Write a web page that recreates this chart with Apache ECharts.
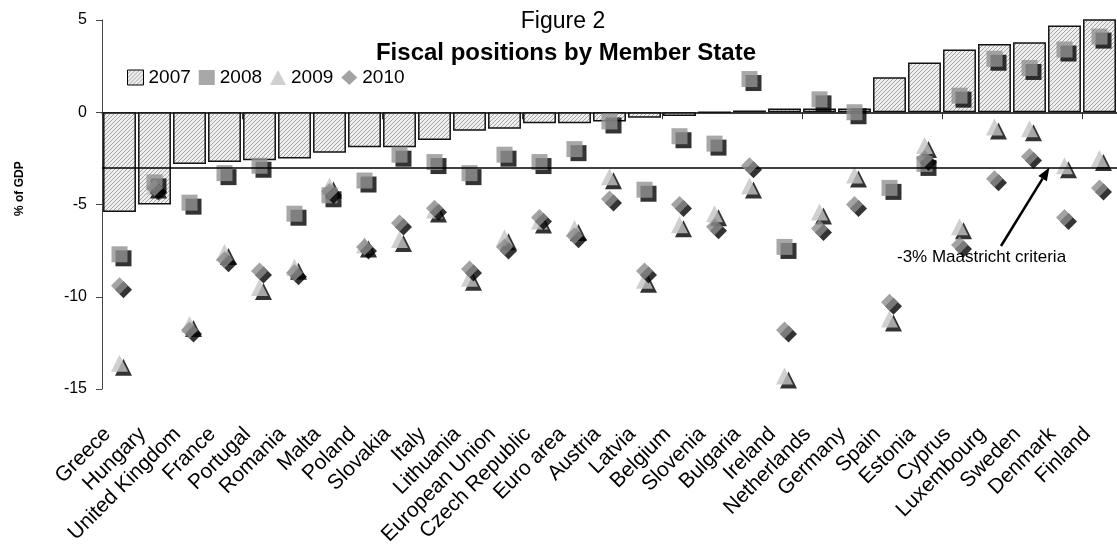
<!DOCTYPE html>
<html>
<head>
<meta charset="utf-8">
<script src="https://cdn.jsdelivr.net/npm/echarts@6/dist/echarts.min.js"></script>
<style>
  html, body { margin: 0; padding: 0; background: #ffffff; }
  #chart { width: 1117px; height: 552px; }
</style>
</head>
<body>
<div id="chart"></div>
<script>
// General government balance, % of GDP, by Member State
const categories = [
  'Greece', 'Hungary', 'United Kingdom', 'France', 'Portugal', 'Romania', 'Malta',
  'Poland', 'Slovakia', 'Italy', 'Lithuania', 'European Union', 'Czech Republic',
  'Euro area', 'Austria', 'Latvia', 'Belgium', 'Slovenia', 'Bulgaria', 'Ireland',
  'Netherlands', 'Germany', 'Spain', 'Estonia', 'Cyprus', 'Luxembourg', 'Sweden',
  'Denmark', 'Finland'
];
const balance2007 = [-5.4, -5.0, -2.8, -2.7, -2.6, -2.5, -2.2, -1.9, -1.9, -1.5, -1.0, -0.9, -0.6,
  -0.6, -0.5, -0.3, -0.2, 0.0, 0.1, 0.2, 0.2, 0.2, 1.9, 2.7, 3.4, 3.7, 3.8, 4.7, 5.2];
const balance2008 = [-7.7, -3.8, -4.9, -3.3, -2.9, -5.5, -4.5, -3.7, -2.3, -2.7, -3.3, -2.3, -2.7,
  -2.0, -0.5, -4.2, -1.3, -1.7, 1.8, -7.3, 0.7, 0.0, -4.1, -2.8, 0.9, 2.9, 2.4, 3.4, 4.1];
const balance2009 = [-13.6, -4.0, -11.5, -7.6, -9.5, -8.4, -4.0, -7.2, -6.9, -5.3, -9.0, -6.8, -5.9,
  -6.3, -3.5, -9.1, -6.1, -5.5, -4.0, -14.3, -5.4, -3.4, -11.2, -1.8, -6.2, -0.8, -0.9, -2.9, -2.5];
const balance2010 = [-9.4, -4.1, -11.8, -8.0, -8.6, -8.7, -4.3, -7.3, -6.0, -5.2, -8.5, -7.3, -5.7,
  -6.7, -4.7, -8.6, -5.0, -6.2, -2.9, -11.8, -6.3, -5.0, -10.3, -2.5, -7.2, -3.6, -2.4, -5.7, -4.1];
const seriesNames = ['2007', '2008', '2009', '2010'];
const yMin = -15, yMax = 5, yStep = 5;
const MAASTRICHT = -3;
const maastrichtLabel = '-3% Maastricht criteria';

const FONT = '"Liberation Sans", Arial, Helvetica, sans-serif';

// light grey diagonal hatch used to fill the 2007 bars
function hatchPattern() {
  const c = document.createElement('canvas');
  c.width = 4; c.height = 4;
  const g = c.getContext('2d');
  g.fillStyle = '#efefef';
  g.fillRect(0, 0, 4, 4);
  g.fillStyle = '#a4a4a4';
  for (let i = 0; i < 4; i++) g.fillRect(3 - i, i, 1, 1);
  return c;
}
const hatch = { image: hatchPattern(), repeat: 'repeat' };

// marker style with a hard black drop shadow
function markerStyle(color) {
  return {
    color: color,
    shadowColor: '#000000',
    shadowBlur: 0,
    shadowOffsetX: 4,
    shadowOffsetY: 4
  };
}

const chart = echarts.init(document.getElementById('chart'), null, { renderer: 'canvas' });

const plotGrid = { left: 102, top: 20, width: 1015, height: 369 };

const option = {
  animation: false,
  backgroundColor: '#ffffff',
  textStyle: { fontFamily: FONT, color: '#000' },
  title: [
    {
      text: 'Figure 2',
      left: 558, top: 5, textAlign: 'center',
      textStyle: { fontFamily: FONT, fontSize: 23, fontWeight: 'normal', color: '#000' }
    },
    {
      text: 'Fiscal positions by Member State',
      left: 561, top: 36, textAlign: 'center',
      textStyle: { fontFamily: FONT, fontSize: 24, fontWeight: 'bold', color: '#000' }
    }
  ],
  legend: {
    left: 122, top: 63,
    itemWidth: 16, itemHeight: 15, itemGap: 8,
    textStyle: { fontFamily: FONT, fontSize: 19, color: '#000' },
    data: [
      { name: seriesNames[0], icon: 'rect', itemStyle: { borderColor: '#000', borderWidth: 1 } },
      { name: seriesNames[1], icon: 'rect' },
      { name: seriesNames[2], icon: 'triangle' },
      { name: seriesNames[3], icon: 'diamond' }
    ]
  },
  grid: [
    Object.assign({ containLabel: false }, plotGrid),
    // companion grid carrying the category names, set slightly left of the plot
    { left: plotGrid.left - 12, top: plotGrid.top, width: plotGrid.width, height: plotGrid.height, containLabel: false }
  ],
  xAxis: [
    {
      // line at zero with boundary ticks
      type: 'category', data: categories, position: 'top', gridIndex: 0,
      axisLine: { onZero: true, lineStyle: { color: '#000', width: 1.5 } },
      axisTick: { show: true, inside: true, length: 7, lineStyle: { color: '#333', width: 1 } },
      axisLabel: { show: false },
      splitLine: { show: false }
    },
    {
      // category names along the bottom
      type: 'category', data: categories, position: 'bottom', gridIndex: 1,
      axisLine: { show: false, onZero: false },
      axisTick: { show: false },
      axisLabel: {
        interval: 0, rotate: 45, margin: 42,
        fontFamily: FONT, fontSize: 21, color: '#000'
      },
      splitLine: { show: false }
    }
  ],
  yAxis: [
    {
      type: 'value', min: yMin, max: yMax, interval: yStep, gridIndex: 0,
      axisLine: { show: true, lineStyle: { color: '#444', width: 1 } },
      axisTick: { show: true, length: 6, lineStyle: { color: '#444' } },
      axisLabel: { fontFamily: FONT, fontSize: 16, color: '#000', margin: 15 },
      splitLine: { show: false }
    },
    {
      type: 'value', min: yMin, max: yMax, interval: yStep, gridIndex: 1, show: false
    }
  ],
  series: [
    {
      name: seriesNames[0], type: 'bar', xAxisIndex: 0, yAxisIndex: 0, data: balance2007,
      barCategoryGap: '6%',
      itemStyle: { color: hatch, borderColor: '#111', borderWidth: 1.5 },
      markLine: {
        silent: true, symbol: 'none',
        label: { show: false },
        lineStyle: { color: '#000', width: 1.5, type: 'solid' },
        data: [{ yAxis: MAASTRICHT }]
      },
      z: 2
    },
    {
      name: seriesNames[2], type: 'scatter', xAxisIndex: 0, yAxisIndex: 0, data: balance2009,
      symbol: 'triangle', symbolSize: 17,
      itemStyle: markerStyle('#c4c4c4'), z: 3
    },
    {
      name: seriesNames[1], type: 'scatter', xAxisIndex: 0, yAxisIndex: 0, data: balance2008,
      symbol: 'rect', symbolSize: 16,
      itemStyle: markerStyle('#929292'), z: 4
    },
    {
      name: seriesNames[3], type: 'scatter', xAxisIndex: 0, yAxisIndex: 0, data: balance2010,
      symbol: 'diamond', symbolSize: 17,
      itemStyle: markerStyle('#8c8c8c'), z: 5
    }
  ]
};

chart.setOption(option);

// annotation: arrow from the note up to the -3% reference line
const tipY = chart.convertToPixel({ yAxisIndex: 0 }, MAASTRICHT);
const tail = [1001, 246];
const tipX = tail[0] + (tail[1] - tipY) * (42 / 68);
const dx = tipX - tail[0], dy = tipY - tail[1];
const len = Math.sqrt(dx * dx + dy * dy);
const ux = dx / len, uy = dy / len;
const headLen = 13, headHalf = 5;
const baseX = tipX - ux * headLen, baseY = tipY - uy * headLen;

chart.setOption({
  graphic: [
    {
      type: 'text', rotation: Math.PI / 2, x: 14, y: 216,
      style: { text: '% of GDP', font: 'bold 12px ' + FONT, fill: '#000' }
    },
    {
      type: 'line', silent: true, z: 10,
      shape: { x1: tail[0], y1: tail[1], x2: baseX, y2: baseY },
      style: { stroke: '#000', lineWidth: 2.5 }
    },
    {
      type: 'polygon', silent: true, z: 10,
      shape: {
        points: [
          [tipX, tipY],
          [baseX - uy * headHalf, baseY + ux * headHalf],
          [baseX + uy * headHalf, baseY - ux * headHalf]
        ]
      },
      style: { fill: '#000' }
    },
    {
      type: 'text', silent: true, z: 10, x: 897, y: 257,
      style: { text: maastrichtLabel, font: '17px ' + FONT, fill: '#000', verticalAlign: 'middle' }
    }
  ]
});
</script>
</body>
</html>
